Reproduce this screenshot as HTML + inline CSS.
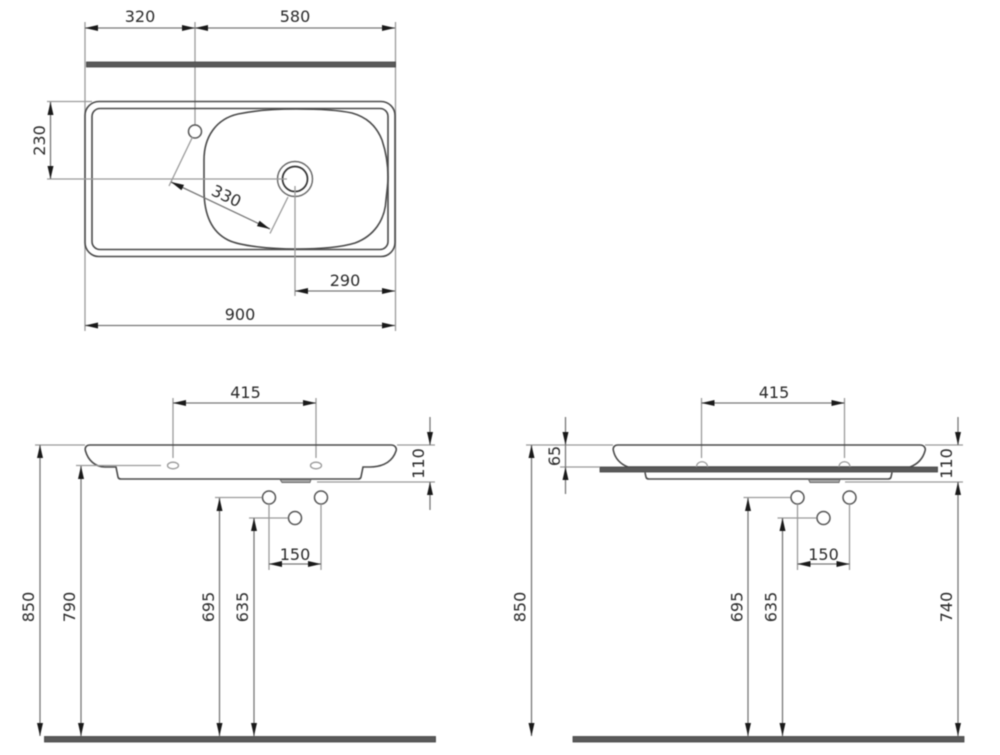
<!DOCTYPE html>
<html><head><meta charset="utf-8"><style>
html,body{margin:0;padding:0;background:#fff;width:1000px;height:755px;overflow:hidden}
svg{display:block;filter:blur(0.4px)}
text{font-family:"DejaVu Sans","Liberation Sans",sans-serif;font-size:16px;fill:#2a2a2a;text-anchor:middle}
.e{stroke:#9a9a9a;stroke-width:1.3;fill:none}
.d{stroke:#777;stroke-width:1.3;fill:none}
.o{stroke:#4a4a4a;stroke-width:1.6;fill:none}
.b{fill:#5a5a5a;stroke:#444;stroke-width:.8}
.a{fill:#1a1a1a}
</style></head><body>
<svg width="1000" height="755" viewBox="0 0 1000 755" xmlns="http://www.w3.org/2000/svg">
<defs>
<polygon id="ar" class="a" points="0,0 -13,-3 -13,3"/>
<g id="side">
<line class="e" x1="173" y1="398" x2="173" y2="458"/><line class="e" x1="316" y1="398" x2="316" y2="458"/>
<line class="d" x1="173" y1="403" x2="316" y2="403"/>
<use href="#ar" transform="translate(173,403) rotate(180)"/><use href="#ar" transform="translate(316,403)"/>
<text x="245.500" y="398">415</text>
<circle cx="269" cy="497.500" r="6.500" fill="none" stroke="#555" stroke-width="1.500"/>
<circle cx="321" cy="497.500" r="6.500" fill="none" stroke="#555" stroke-width="1.500"/>
<circle cx="295" cy="518" r="6.500" fill="none" stroke="#555" stroke-width="1.500"/>
<line class="e" x1="215" y1="497.500" x2="262" y2="497.500"/>
<line class="e" x1="249" y1="518" x2="288" y2="518"/>
<line class="e" x1="269" y1="504" x2="269" y2="570"/><line class="e" x1="321" y1="504" x2="321" y2="570"/>
<line class="d" x1="269" y1="564" x2="321" y2="564"/>
<use href="#ar" transform="translate(269,564) rotate(180)"/><use href="#ar" transform="translate(321,564)"/>
<text x="295" y="560">150</text>
<line class="d" x1="219.500" y1="498" x2="219.500" y2="736"/>
<use href="#ar" transform="translate(219.500,498) rotate(-90)"/><use href="#ar" transform="translate(219.500,736) rotate(90)"/>
<line class="d" x1="254" y1="518" x2="254" y2="736"/>
<use href="#ar" transform="translate(254,518) rotate(-90)"/><use href="#ar" transform="translate(254,736) rotate(90)"/>
<text transform="translate(214,607) rotate(-90)">695</text>
<text transform="translate(248,607) rotate(-90)">635</text>
<rect class="b" x="44.500" y="736.500" width="391" height="5.500"/>
</g>
</defs>

<!-- Top view -->
<line class="e" x1="85" y1="22" x2="85" y2="331"/>
<line class="e" x1="395.500" y1="22" x2="395.500" y2="331"/>
<line class="e" x1="195" y1="22" x2="195" y2="125"/>
<line class="d" x1="85" y1="28" x2="395" y2="28"/>
<use href="#ar" transform="translate(85,28) rotate(180)"/><use href="#ar" transform="translate(195,28)"/>
<use href="#ar" transform="translate(195,28) rotate(180)"/><use href="#ar" transform="translate(395,28)"/>
<text x="140" y="22">320</text><text x="295" y="22">580</text>
<rect class="b" x="86.500" y="62" width="309" height="5"/>

<rect class="o" x="85" y="101.500" width="310" height="155" rx="14"/>
<rect class="o" x="92" y="108.500" width="296" height="141" rx="8"/>
<path class="o" d="M296,109 C272,109 252,111 238,114 C216,119 204,137 204,160 L204,190 C204,216 212,232 228,240 C240,246 270,249 296,249 C322,249 342,247 355,243 C374,236 385,220 386,200 C387,190 388,185 388,177 C388,165 386,152 382,140 C376,125 366,117 352,113 C338,110 318,109 296,109 Z"/>
<circle cx="195" cy="131.500" r="6.500" fill="#fff" stroke="#555" stroke-width="1.500"/>
<circle cx="295" cy="179" r="17.500" fill="none" stroke="#666" stroke-width="1.400"/>
<circle cx="295" cy="179" r="12.500" fill="none" stroke="#333" stroke-width="1.700"/>

<line class="e" x1="47" y1="101.500" x2="92" y2="101.500"/>
<line class="e" x1="47" y1="179" x2="287" y2="179"/>
<line class="d" x1="50.500" y1="102" x2="50.500" y2="179"/>
<use href="#ar" transform="translate(50.500,102) rotate(-90)"/><use href="#ar" transform="translate(50.500,179) rotate(90)"/>
<text transform="translate(45,140.500) rotate(-90)">230</text>

<line class="e" x1="192.500" y1="137" x2="169" y2="186"/>
<line class="e" x1="288" y1="197" x2="270" y2="233.500"/>
<line class="d" x1="171" y1="182" x2="270" y2="229"/>
<use href="#ar" transform="translate(171,182) rotate(205.400)"/><use href="#ar" transform="translate(270,229) rotate(25.400)"/>
<text transform="translate(224,201) rotate(25.400)">330</text>

<line class="e" x1="295" y1="186" x2="295" y2="296"/>
<line class="d" x1="295" y1="291" x2="395" y2="291"/>
<use href="#ar" transform="translate(295,291) rotate(180)"/><use href="#ar" transform="translate(395,291)"/>
<text x="345" y="286">290</text>
<line class="d" x1="85" y1="325.500" x2="395" y2="325.500"/>
<use href="#ar" transform="translate(85,325.500) rotate(180)"/><use href="#ar" transform="translate(395,325.500)"/>
<text x="240" y="320">900</text>

<!-- Left elevation -->
<use href="#side"/>
<path class="o" d="M90,445 L391,445 C395,445 397,448 396,451 C393,460 385,467 370,467 L363,467 L361,477 Q360.500,479 358,479 L121,479 Q118.500,479 118,477 L116,467 L105,467 C95,467 88,460 85.500,451 C84.500,448 86,445 90,445 Z"/>
<path d="M280,479.500 L311,479.500 L310,482.500 L282,482.500 Z" fill="#aaa" stroke="#666" stroke-width=".9"/>
<ellipse cx="173" cy="465.500" rx="5.500" ry="3.300" fill="none" stroke="#999" stroke-width="1.300"/>
<ellipse cx="316" cy="465.500" rx="5.500" ry="3.300" fill="none" stroke="#999" stroke-width="1.300"/>
<line class="e" x1="35" y1="445" x2="85" y2="445"/>
<line class="e" x1="76" y1="465.500" x2="161" y2="465.500"/>
<line class="d" x1="40" y1="445" x2="40" y2="736"/>
<use href="#ar" transform="translate(40,445) rotate(-90)"/><use href="#ar" transform="translate(40,736) rotate(90)"/>
<text transform="translate(34,607) rotate(-90)">850</text>
<line class="d" x1="81" y1="466" x2="81" y2="736"/>
<use href="#ar" transform="translate(81,466) rotate(-90)"/><use href="#ar" transform="translate(81,736) rotate(90)"/>
<text transform="translate(75,607) rotate(-90)">790</text>
<line class="e" x1="397" y1="445" x2="435" y2="445"/>
<line class="e" x1="317" y1="482" x2="435" y2="482"/>
<line class="d" x1="430" y1="417" x2="430" y2="445"/><line class="d" x1="430" y1="482" x2="430" y2="510"/>
<use href="#ar" transform="translate(430,445) rotate(90)"/><use href="#ar" transform="translate(430,482) rotate(-90)"/>
<text transform="translate(424,463.500) rotate(-90)">110</text>

<!-- Right elevation -->
<use href="#side" transform="translate(528.500,0)"/>
<path class="o" d="M618,445 L920,445 C924,445 926,448 925,451 C923,458 918,464 910,467 L628,467 C620,464 615,458 613.500,451 C612.500,448 614,445 618,445 Z"/>
<rect class="b" x="600" y="467" width="337.500" height="5"/>
<path class="o" d="M645,472.500 L646,477 Q646.500,479 649,479 L888,479 Q890.500,479 891,477 L892,472.500" stroke-width="1.300"/>
<path d="M808.500,479.500 L840,479.500 L839,482.500 L810,482.500 Z" fill="#aaa" stroke="#666" stroke-width=".9"/>
<path d="M696.500,467 C696.500,460 707.500,460 707.500,467" fill="none" stroke="#999" stroke-width="1.300"/>
<path d="M839,467 C839,460 850,460 850,467" fill="none" stroke="#999" stroke-width="1.300"/>
<line class="e" x1="526" y1="445" x2="613" y2="445"/>
<line class="e" x1="560" y1="467" x2="600" y2="467"/>
<line class="d" x1="531.500" y1="445" x2="531.500" y2="736"/>
<use href="#ar" transform="translate(531.500,445) rotate(-90)"/><use href="#ar" transform="translate(531.500,736) rotate(90)"/>
<text transform="translate(525.500,607) rotate(-90)">850</text>
<line class="d" x1="565.500" y1="417" x2="565.500" y2="494"/>
<use href="#ar" transform="translate(565.500,445) rotate(90)"/><use href="#ar" transform="translate(565.500,467) rotate(-90)"/>
<text transform="translate(560,456) rotate(-90)">65</text>
<line class="e" x1="925" y1="445" x2="963" y2="445"/>
<line class="e" x1="845" y1="482" x2="963" y2="482"/>
<line class="d" x1="958" y1="417" x2="958" y2="445"/><line class="d" x1="958" y1="482" x2="958" y2="736"/>
<use href="#ar" transform="translate(958,445) rotate(90)"/><use href="#ar" transform="translate(958,482) rotate(-90)"/><use href="#ar" transform="translate(958,736) rotate(90)"/>
<text transform="translate(952,463.500) rotate(-90)">110</text>
<text transform="translate(952,607) rotate(-90)">740</text>
</svg>
</body></html>
